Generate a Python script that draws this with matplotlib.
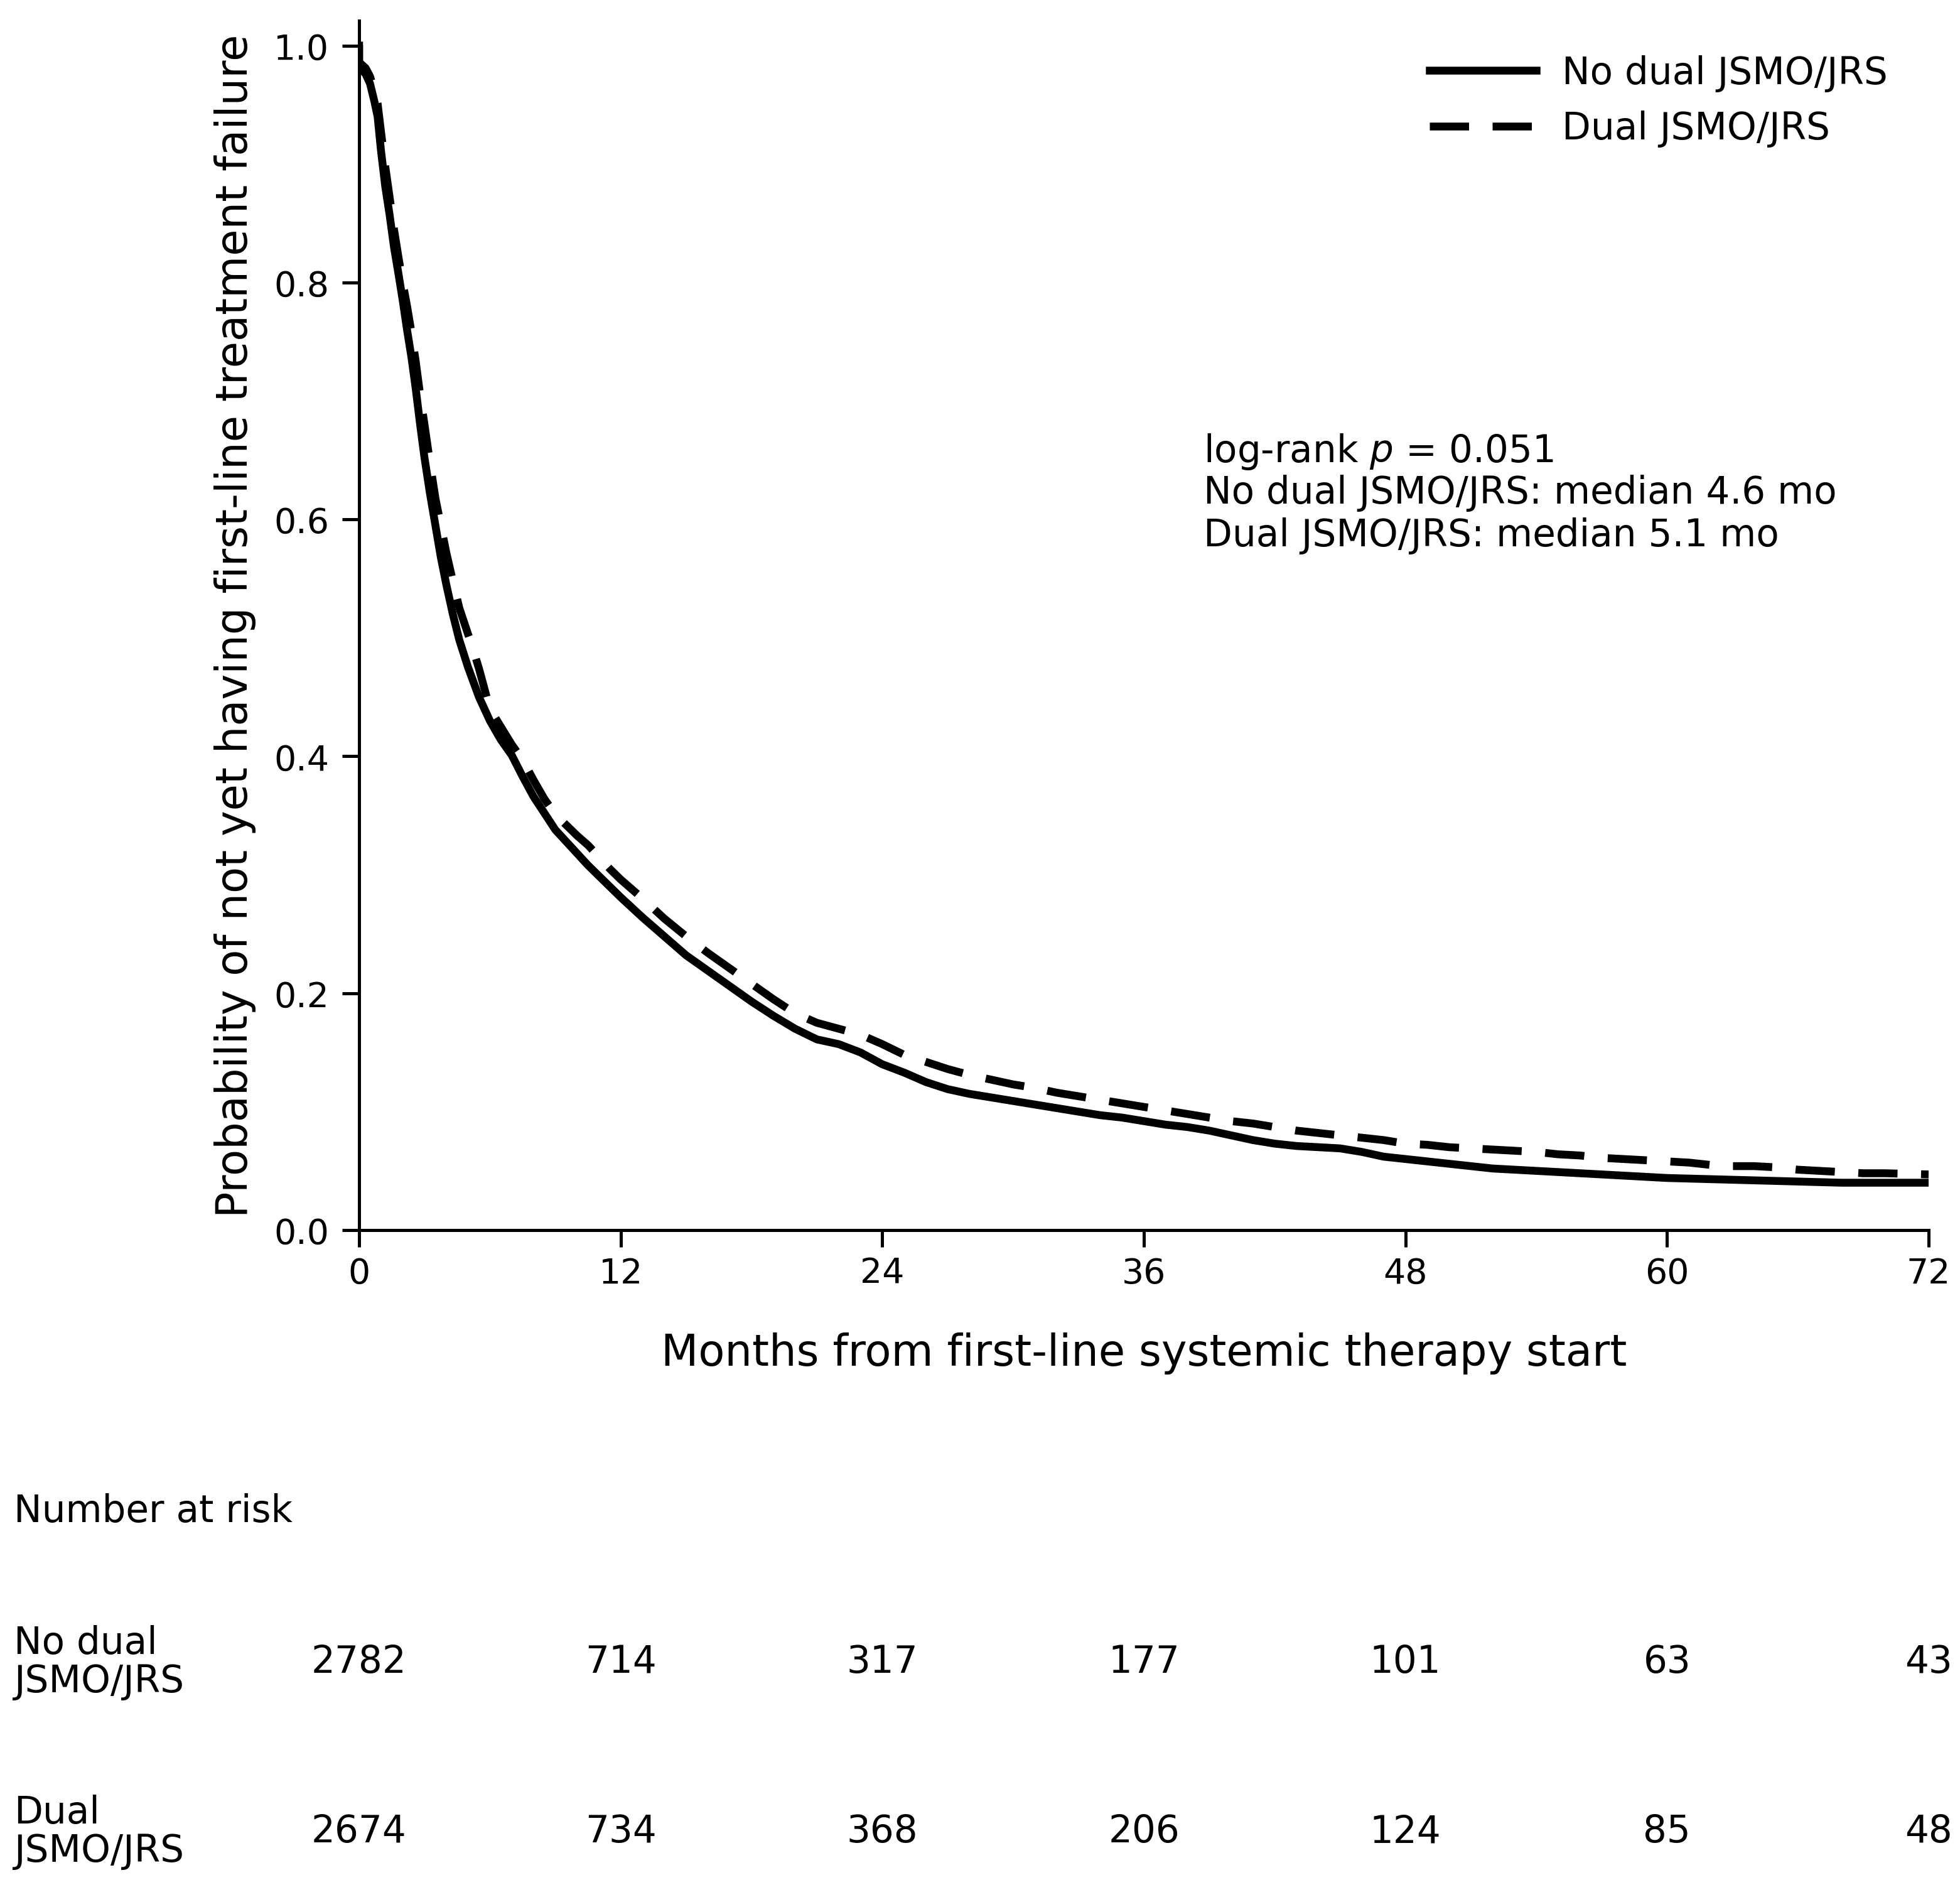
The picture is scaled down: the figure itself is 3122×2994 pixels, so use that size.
import matplotlib
matplotlib.use("Agg")
import matplotlib.pyplot as plt
import matplotlib.transforms as mtransforms

# ---------------- data ----------------
t_nodual = [0, 0, 0.3, 0.5, 0.7, 0.85, 1.0, 1.2, 1.4, 1.6, 1.8, 2.0, 2.2, 2.4, 2.6, 2.8,
            3.0, 3.25, 3.5, 3.75, 4.0, 4.3, 4.6, 5.0, 5.5, 6.0, 6.5, 7.0, 7.5, 8.0, 8.5, 9.0,
            9.5, 10.0, 10.5, 11.0, 11.5, 12, 13, 14, 15, 16, 17, 18, 19, 20, 21, 22, 23, 24,
            25, 26, 27, 28, 29, 30, 31, 32, 33, 34, 35, 36, 37, 38, 39, 40, 41, 42, 43, 44,
            45, 46, 47, 48, 49, 50, 51, 52, 53, 54, 55, 56, 57, 58, 59, 60, 62, 64, 66, 68, 72]
s_nodual = [1.0, 0.982, 0.976, 0.968, 0.953, 0.94, 0.912, 0.881, 0.857, 0.83, 0.808, 0.785, 0.76,
            0.737, 0.71, 0.68, 0.652, 0.622, 0.595, 0.568, 0.545, 0.52, 0.498, 0.475, 0.45, 0.43,
            0.414, 0.401, 0.383, 0.366, 0.352, 0.338, 0.328, 0.318, 0.308, 0.299, 0.29, 0.281,
            0.264, 0.248, 0.232, 0.219, 0.206, 0.193, 0.181, 0.170, 0.161, 0.157, 0.150, 0.140,
            0.133, 0.125, 0.119, 0.115, 0.112, 0.109, 0.106, 0.103, 0.100, 0.097, 0.095, 0.092,
            0.089, 0.087, 0.084, 0.080, 0.076, 0.073, 0.071, 0.070, 0.069, 0.066, 0.062, 0.060,
            0.058, 0.056, 0.054, 0.052, 0.051, 0.050, 0.049, 0.048, 0.047, 0.046, 0.045, 0.044,
            0.043, 0.042, 0.041, 0.040, 0.040]

t_dual = [0, 0, 0.3, 0.5, 0.7, 0.85, 1.0, 1.2, 1.4, 1.6, 1.8, 2.0, 2.2, 2.4, 2.6, 2.8,
          3.0, 3.25, 3.5, 3.75, 4.0, 4.3, 4.6, 5.0, 5.1, 5.5, 6.0, 6.5, 7.0, 7.5, 8.0, 8.5, 9.0,
          9.5, 10.0, 10.5, 11.0, 11.5, 12, 13, 14, 15, 16, 17, 18, 19, 20, 21, 22, 23, 24,
          25, 26, 27, 28, 29, 30, 31, 32, 33, 34, 35, 36, 37, 38, 39, 40, 41, 42, 43, 44,
          45, 46, 47, 48, 49, 50, 51, 52, 53, 54, 55, 56, 57, 58, 59, 60, 61, 62, 63, 64,
          65, 66, 67, 68, 69, 70, 72]
s_dual = [1.0, 0.986, 0.981, 0.974, 0.962, 0.951, 0.928, 0.898, 0.872, 0.845, 0.822, 0.80, 0.78,
          0.758, 0.733, 0.705, 0.68, 0.648, 0.618, 0.595, 0.572, 0.548, 0.525, 0.503, 0.498,
          0.474, 0.44, 0.425, 0.41, 0.397, 0.38, 0.364, 0.351, 0.342, 0.333, 0.325, 0.315,
          0.305, 0.296, 0.28, 0.263, 0.248, 0.234, 0.221, 0.208, 0.195, 0.183, 0.175, 0.170,
          0.165, 0.157, 0.148, 0.142, 0.136, 0.131, 0.127, 0.123, 0.120, 0.116, 0.113, 0.110,
          0.107, 0.104, 0.101, 0.098, 0.095, 0.092, 0.090, 0.087, 0.084, 0.082, 0.080, 0.078,
          0.076, 0.073, 0.072, 0.070, 0.069, 0.068, 0.067, 0.066, 0.064, 0.063, 0.061, 0.060,
          0.059, 0.058, 0.057, 0.055, 0.054, 0.054, 0.053, 0.051, 0.050, 0.049, 0.048, 0.048,
          0.047]

group_labels = ["No dual JSMO/JRS", "Dual JSMO/JRS"]
risk_labels = ["No dual\nJSMO/JRS", "Dual\nJSMO/JRS"]
risk_times = [0, 12, 24, 36, 48, 60, 72]
risk_nodual = [2782, 714, 317, 177, 101, 63, 43]
risk_dual = [2674, 734, 368, 206, 124, 85, 48]
y_ticks = [0.0, 0.2, 0.4, 0.6, 0.8, 1.0]
stats_lines = [r"log-rank $p$ = 0.051",
               "No dual JSMO/JRS: median 4.6 mo",
               "Dual JSMO/JRS: median 5.1 mo"]

# ---------------- figure ----------------
plt.rcParams['font.family'] = ['DejaVu Sans']
W, H, DPI = 3122, 2995, 300
fig = plt.figure(figsize=(W / DPI, H / DPI), dpi=DPI)
ax = fig.add_axes([572 / W, 1 - 1960 / H, 2500 / W, (1960 - 34) / H])

FS = 14.3
FS_TICK = 13.3
FS_LAB = 16.5
ax.plot(t_nodual, s_nodual, color='black', lw=3, solid_joinstyle='round',
        label=group_labels[0])
ax.plot(t_dual, s_dual, color='black', lw=3, linestyle=(0, (5, 3)),
        label=group_labels[1])

ax.set_xlim(0, 72)
ax.set_ylim(0, 1.021)
ax.set_xticks(risk_times)
ax.set_yticks(y_ticks)
ax.set_yticklabels([f"{v:.1f}" for v in y_ticks])
ax.tick_params(labelsize=FS_TICK, length=6.5, width=1.2)
ax.tick_params(axis='y', pad=5)
for side in ['top', 'right']:
    ax.spines[side].set_visible(False)
for side in ['left', 'bottom']:
    ax.spines[side].set_linewidth(1.2)

ax.set_xlabel("Months from first-line systemic therapy start", fontsize=FS_LAB, labelpad=16)
ax.set_ylabel("Probability of not yet having first-line treatment failure", fontsize=FS_LAB,
              labelpad=6.8)

ax.legend(loc='upper right', bbox_to_anchor=(0.9955, 1.0), frameon=False, fontsize=FS,
          handlelength=2.85, handletextpad=0.7, labelspacing=0.5)

ys = [0.6575, 0.6225, 0.5865]
for yy, txt in zip(ys, stats_lines):
    ax.text(38.75, yy, txt, fontsize=FS, ha='left', va='center')

# ---------------- risk table ----------------
trans = mtransforms.blended_transform_factory(ax.transData, fig.transFigure)
fig.text(22 / W, 1 - 2408 / H, "Number at risk", fontsize=FS, ha='left', va='center')
rows_y = [1 - 2648 / H, 1 - 2918 / H]
for lab, vals, yy in zip(risk_labels, [risk_nodual, risk_dual], rows_y):
    fig.text(22 / W, yy, lab, fontsize=FS, ha='left', va='center', linespacing=1.05)
    for tt, v in zip(risk_times, vals):
        fig.text(tt, yy, str(v), fontsize=FS, ha='center', va='center', transform=trans)

fig.savefig("out.png", dpi=DPI)
